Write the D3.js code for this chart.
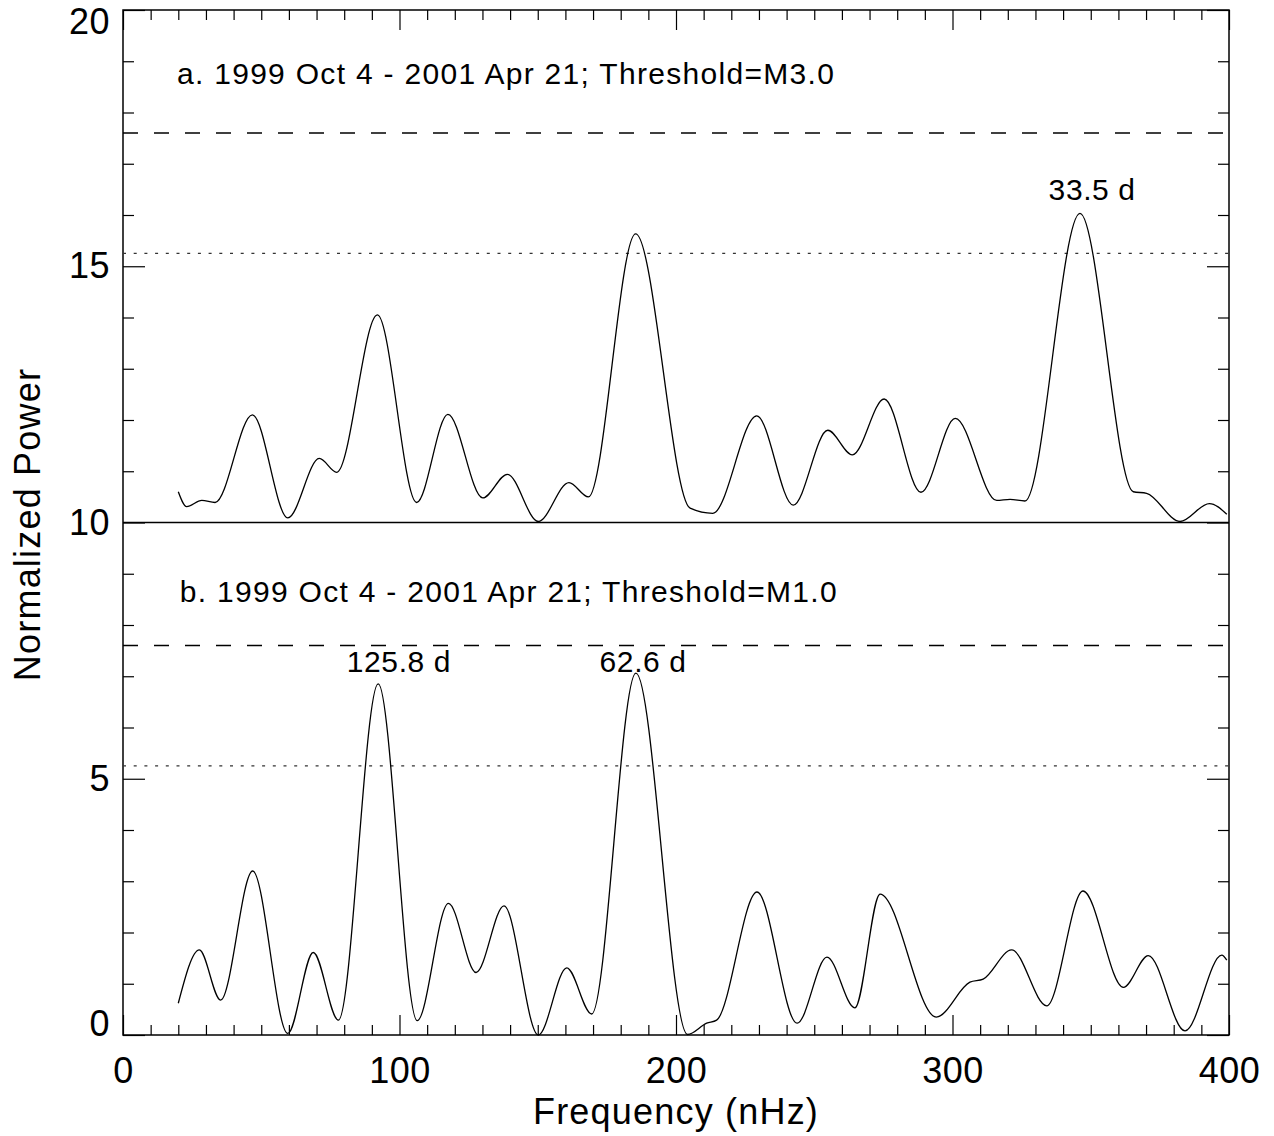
<!DOCTYPE html>
<html>
<head>
<meta charset="utf-8">
<title>Normalized Power vs Frequency</title>
<style>
    body { margin: 0; background: #fff; }
    svg { display: block; font-family: "Liberation Sans", Arial, Helvetica, sans-serif; }
    .curve { fill: none; stroke: #000; stroke-width: 1.3px; }
    .tick line { stroke: #000; stroke-width: 1.2px; }
    .tick text { font-size: 36px; fill: #000; letter-spacing: 0.5px; }
    .frame { fill: none; stroke: #000; stroke-width: 1.5px; }
    .dashed { stroke: #000; stroke-width: 1.3px; stroke-dasharray: 15, 16; }
    .dotted { stroke: #333; stroke-width: 1.2px; stroke-dasharray: 3, 7.7; }
    .panel-label { font-size: 30px; letter-spacing: 1.3px; }
    .peak-label { font-size: 30px; letter-spacing: 0.6px; text-anchor: middle; }
    .axis-title { font-size: 36px; letter-spacing: 1.2px; text-anchor: middle; }
</style>
<script src="https://d3js.org/d3.v7.min.js"></script>
</head>
<body>
<svg id="chart" width="1274" height="1136"></svg>
<script>
// panel a: 1999 Oct 4 - 2001 Apr 21, threshold M3.0 (plotted with +10 offset)
var freqA = [20.0, 23.0, 28.5, 33.3, 46.8, 59.6, 71.0, 77.3, 92.0,
    106.2, 117.5, 130.1, 139.0, 150.2, 161.3, 168.3, 185.4,
    205.1, 213.3, 229.2, 242.4, 254.9, 263.8, 275.3, 288.6, 301.0, 316.0, 320.8, 326.2,
    346.1, 365.4, 370.2, 382.3, 392.9, 399.2];
var powerA = [10.60, 10.31, 10.43, 10.39, 12.10, 10.09, 11.25, 10.98, 14.05,
    10.39, 12.11, 10.48, 10.94, 10.02, 10.78, 10.50, 15.63,
    10.28, 10.18, 12.08, 10.34, 11.80, 11.32, 12.41, 10.59, 12.03, 10.43, 10.45, 10.42,
    16.03, 10.60, 10.57, 10.02, 10.37, 10.16];

// panel b: same period, threshold M1.0
var freqB = [20.0, 27.6, 35.3, 46.9, 59.6, 68.8, 77.9, 92.3, 106.4, 117.7, 127.7, 137.8,
    150.2, 160.5, 169.5, 185.5, 204.2, 211.1, 214.7, 229.3, 243.8, 254.6, 264.7,
    273.8, 294.1, 306.3, 311.1, 321.4, 334.1, 347.2, 361.8, 370.8, 384.1, 397.4, 399.2];
var powerB = [0.62, 1.66, 0.68, 3.20, 0.03, 1.61, 0.29, 6.85, 0.28, 2.57, 1.22, 2.52,
    0.00, 1.31, 0.41, 7.06, 0.01, 0.23, 0.29, 2.79, 0.23, 1.52, 0.53,
    2.75, 0.35, 1.03, 1.09, 1.66, 0.57, 2.81, 0.93, 1.55, 0.08, 1.56, 1.46];

// significance levels
var dashedLevels = [17.6, 7.6];
var dottedLevels = [15.25, 5.25];

var panelTexts = ["a. 1999 Oct 4 - 2001 Apr 21; Threshold=M3.0", "b. 1999 Oct 4 - 2001 Apr 21; Threshold=M1.0"];
var panelTextPos = [[19.5, 18.55], [20.5, 8.45]]; // [freq, power]

var peakTexts = ["33.5 d", "125.8 d", "62.6 d"];
var peakTextPos = [[350.5, 16.29], [99.8, 7.08], [188.1, 7.08]];

var xTicks = [0, 100, 200, 300, 400];
var yTicks = [0, 5, 10, 15, 20];

var svg = d3.select("#chart");
var plotLeft = 123, plotRight = 1229, plotTop = 10, plotBottom = 1035;

var x = d3.scaleLinear().domain([0, 400]).range([plotLeft, plotRight]);
var y = d3.scaleLinear().domain([0, 20]).range([plotBottom, plotTop]);

var xMinor = d3.range(0, 401, 10).filter(function(d) { return d % 100 !== 0; });
var yMinor = d3.range(0, 21, 1).filter(function(d) { return d % 5 !== 0; });

// bottom axis with labels
svg.append("g").attr("transform", "translate(0," + plotBottom + ")")
    .call(d3.axisBottom(x).tickValues(xTicks).tickSizeInner(-20).tickSizeOuter(0).tickPadding(22));
svg.append("g").attr("transform", "translate(0," + plotBottom + ")")
    .call(d3.axisBottom(x).tickValues(xMinor).tickSizeInner(-10).tickSizeOuter(0).tickFormat(""));
// top axis, ticks only
svg.append("g").attr("transform", "translate(0," + plotTop + ")")
    .call(d3.axisTop(x).tickValues(xTicks).tickSizeInner(-20).tickSizeOuter(0).tickFormat(""));
svg.append("g").attr("transform", "translate(0," + plotTop + ")")
    .call(d3.axisTop(x).tickValues(xMinor).tickSizeInner(-10).tickSizeOuter(0).tickFormat(""));

// left axis with labels
var gl = svg.append("g").attr("transform", "translate(" + plotLeft + ",0)")
    .call(d3.axisLeft(y).tickValues(yTicks).tickSizeInner(-22).tickSizeOuter(0).tickPadding(13));
svg.append("g").attr("transform", "translate(" + plotLeft + ",0)")
    .call(d3.axisLeft(y).tickValues(yMinor).tickSizeInner(-11).tickSizeOuter(0).tickFormat(""));
// right axis, ticks only
svg.append("g").attr("transform", "translate(" + plotRight + ",0)")
    .call(d3.axisRight(y).tickValues(yTicks).tickSizeInner(-22).tickSizeOuter(0).tickFormat(""));
svg.append("g").attr("transform", "translate(" + plotRight + ",0)")
    .call(d3.axisRight(y).tickValues(yMinor).tickSizeInner(-11).tickSizeOuter(0).tickFormat(""));

svg.selectAll(".domain").remove();

// keep the end labels inside the frame, like the original
gl.selectAll(".tick text").attr("dy", function(d) {
    if (d === 20) return "0.65em";
    if (d === 0) return "0em";
    return "0.32em";
});

// frame and panel divider
svg.append("rect").attr("class", "frame")
    .attr("x", plotLeft).attr("y", plotTop)
    .attr("width", plotRight - plotLeft).attr("height", plotBottom - plotTop);
svg.append("line").attr("stroke", "#000").attr("stroke-width", 1.5)
    .attr("x1", plotLeft).attr("x2", plotRight).attr("y1", y(10)).attr("y2", y(10));

// threshold lines
svg.selectAll(".dashed").data(dashedLevels).enter().append("line").attr("class", "dashed")
    .attr("x1", plotLeft).attr("x2", plotRight)
    .attr("y1", function(d) { return y(d); }).attr("y2", function(d) { return y(d); });
svg.selectAll(".dotted").data(dottedLevels).enter().append("line").attr("class", "dotted")
    .attr("x1", plotLeft).attr("x2", plotRight)
    .attr("y1", function(d) { return y(d); }).attr("y2", function(d) { return y(d); });

// curves
var line = d3.line()
    .x(function(d) { return x(d[0]); })
    .y(function(d) { return y(d[1]); })
    .curve(d3.curveMonotoneX);

svg.append("path").attr("class", "curve").attr("d", line(d3.zip(freqA, powerA)));
svg.append("path").attr("class", "curve").attr("d", line(d3.zip(freqB, powerB)));

// texts
svg.selectAll(".panel-label").data(panelTexts).enter().append("text").attr("class", "panel-label")
    .attr("x", function(d, i) { return x(panelTextPos[i][0]); })
    .attr("y", function(d, i) { return y(panelTextPos[i][1]); })
    .text(function(d) { return d; });

svg.selectAll(".peak-label").data(peakTexts).enter().append("text").attr("class", "peak-label")
    .attr("x", function(d, i) { return x(peakTextPos[i][0]); })
    .attr("y", function(d, i) { return y(peakTextPos[i][1]); })
    .text(function(d) { return d; });

svg.append("text").attr("class", "axis-title")
    .attr("x", (plotLeft + plotRight) / 2).attr("y", 1124)
    .text("Frequency (nHz)");

svg.append("text").attr("class", "axis-title")
    .attr("transform", "translate(40," + ((plotTop + plotBottom) / 2 + 2) + ") rotate(-90)")
    .text("Normalized Power");
</script>
</body>
</html>
